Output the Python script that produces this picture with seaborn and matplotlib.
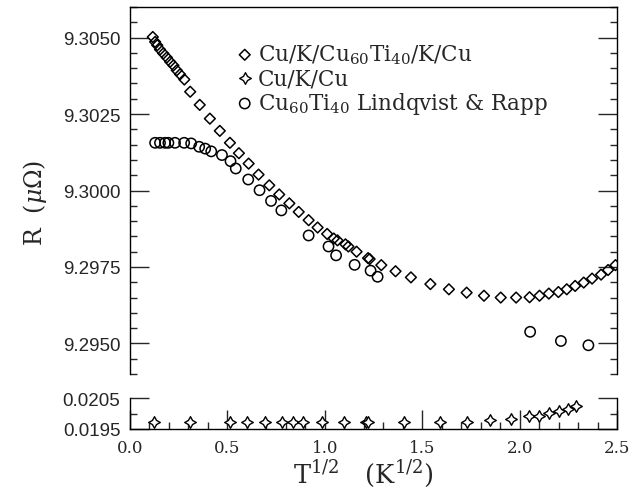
import numpy as np
import pandas as pd
import seaborn as sns
import matplotlib.pyplot as plt
from matplotlib.ticker import MultipleLocator, FormatStrFormatter

sns.set_style('ticks')
plt.rcParams['font.family'] = ['DejaVu Serif']
plt.rcParams['mathtext.fontset'] = 'dejavuserif'

# Cu/K/Cu60Ti40/K/Cu (diamonds)
sandwich_x = [0.117, 0.129, 0.140, 0.154, 0.171, 0.189, 0.206, 0.223, 0.240, 0.257,
              0.279, 0.309, 0.358, 0.410, 0.461, 0.513, 0.559, 0.609, 0.660, 0.715,
              0.766, 0.818, 0.866, 0.917, 0.963, 1.012, 1.046, 1.065, 1.106, 1.121,
              1.163, 1.222, 1.230, 1.290, 1.363, 1.442, 1.542, 1.637, 1.728, 1.817,
              1.903, 1.982, 2.051, 2.102, 2.150, 2.199, 2.242, 2.285, 2.329, 2.372,
              2.418, 2.454, 2.492]
sandwich_r = [9.30502, 9.30486, 9.30475, 9.30461, 9.30448, 9.30435, 9.30421, 9.30409, 9.30393, 9.30380,
              9.30363, 9.30323, 9.30280, 9.30235, 9.30195, 9.30156, 9.30122, 9.30088, 9.30052, 9.30017,
              9.29987, 9.29958, 9.29930, 9.29903, 9.29879, 9.29858, 9.29843, 9.29837, 9.29824, 9.29817,
              9.29800, 9.29779, 9.29776, 9.29756, 9.29736, 9.29716, 9.29694, 9.29677, 9.29666, 9.29656,
              9.29650, 9.29650, 9.29651, 9.29656, 9.29663, 9.29668, 9.29677, 9.29688, 9.29699, 9.29712,
              9.29725, 9.29740, 9.29756]

# Cu60Ti40 Lindqvist & Rapp (circles)
lr_x = [0.129, 0.154, 0.180, 0.197, 0.231, 0.278, 0.314, 0.355, 0.386, 0.417,
        0.472, 0.516, 0.543, 0.607, 0.665, 0.724, 0.777, 0.917, 1.019, 1.058,
        1.153, 1.235, 1.271, 2.054, 2.212, 2.353]
lr_r = [9.30156, 9.30156, 9.30156, 9.30156, 9.30156, 9.30156, 9.30154, 9.30143, 9.30137, 9.30128,
        9.30116, 9.30096, 9.30072, 9.30036, 9.30001, 9.29966, 9.29935, 9.29853, 9.29817, 9.29788,
        9.29757, 9.29738, 9.29718, 9.29538, 9.29508, 9.29494]

# Cu/K/Cu (stars, lower panel)
ref_x = [0.123, 0.310, 0.514, 0.600, 0.694, 0.780, 0.837, 0.890, 0.988, 1.096,
         1.210, 1.220, 1.405, 1.590, 1.728, 1.847, 1.958, 2.050, 2.100, 2.150,
         2.200, 2.246, 2.290]
ref_r = [0.019735, 0.019735, 0.019735, 0.019735, 0.019735, 0.019735, 0.019735, 0.019735, 0.019735, 0.019735,
         0.019735, 0.019735, 0.019735, 0.019735, 0.01974, 0.01979, 0.01982, 0.01991, 0.01993, 0.02002,
         0.02009, 0.02015, 0.02023]

fig = plt.figure(figsize=(6.41, 4.89), dpi=100)
ax = fig.add_axes([0.2028, 0.2331, 0.7598, 0.7505])
ax2 = fig.add_axes([0.2028, 0.1207, 0.7598, 0.0633])

mk = dict(color='black', facecolor='none', edgecolor='black', linewidth=1.1)
sns.scatterplot(x=sandwich_x, y=sandwich_r, marker='D', s=30, ax=ax,
                label=r'Cu/K/Cu$_{60}$Ti$_{40}$/K/Cu', **mk)
sns.scatterplot(x=ref_x, y=ref_r, marker=(4, 1, 0), s=70, ax=ax2,
                label='Cu/K/Cu', color='black', facecolor='white',
                edgecolor='black', linewidth=1.0)
sns.scatterplot(x=lr_x, y=lr_r, marker='o', s=55, ax=ax,
                label=r'Cu$_{60}$Ti$_{40}$ Lindqvist & Rapp', **mk)

for a in (ax, ax2):
    a.set_xlim(0, 2.5)
    for s in a.spines.values():
        s.set_linewidth(1.0)
        s.set_color('black')
    a.set_xlabel('')
    a.set_ylabel('')

# main panel
ax.set_ylim(9.2940, 9.3060)
ax.spines['bottom'].set_visible(False)
ax.yaxis.set_major_locator(MultipleLocator(0.0025))
ax.yaxis.set_minor_locator(MultipleLocator(0.0005))
ax.yaxis.set_major_formatter(FormatStrFormatter('%.4f'))
ax.tick_params(axis='y', which='both', direction='in', left=True, right=True, width=1.0)
ax.tick_params(axis='y', which='major', length=14, pad=7)
ax.tick_params(axis='y', which='minor', length=5)
ax.tick_params(axis='x', which='both', bottom=False, top=False, labelbottom=False)

# lower panel
ax2.set_ylim(0.0195, 0.0205)
ax2.spines['top'].set_visible(False)
ax2.set_yticks([0.0195, 0.0205])
ax2.set_yticks([0.0200], minor=True)
ax2.yaxis.set_major_formatter(FormatStrFormatter('%.4f'))
ax2.xaxis.set_major_locator(MultipleLocator(0.5))
ax2.xaxis.set_minor_locator(MultipleLocator(0.1))
ax2.xaxis.set_major_formatter(FormatStrFormatter('%.1f'))
ax2.tick_params(axis='both', which='both', direction='in', width=1.0)
ax2.tick_params(axis='y', which='both', left=True, right=True)
ax2.tick_params(axis='y', which='major', length=14, pad=7)
ax2.tick_params(axis='y', which='minor', length=5)
ax2.tick_params(axis='x', which='major', length=14, pad=7, labelsize=12)
ax2.tick_params(axis='x', which='minor', length=5)

for a in (ax, ax2):
    a.tick_params(axis='y', labelfontfamily='Liberation Sans', labelsize=13.5)

# legend collecting handles from both panels
h1, l1 = ax.get_legend_handles_labels()
h2, l2 = ax2.get_legend_handles_labels()
if ax2.get_legend():
    ax2.get_legend().remove()
handles = [h1[0], h2[0], h1[1]]
labels = [l1[0], l2[0], l1[1]]
ax.legend(handles, labels, loc='upper left', bbox_to_anchor=(0.198, 0.927),
          frameon=False, fontsize=15.5, handletextpad=0.15, labelspacing=0.05,
          handlelength=0.9, borderaxespad=0)

fig.text(35 / 641, 1 - 203 / 489, r'R  ($\mu\Omega$)', rotation=90,
         ha='center', va='center', fontsize=17)
fig.text(363 / 641, 1 - 483 / 489, r'T$^{1/2}$   (K$^{1/2}$)',
         ha='center', va='baseline', fontsize=18.5)

fig.savefig('out.png', dpi=100)
